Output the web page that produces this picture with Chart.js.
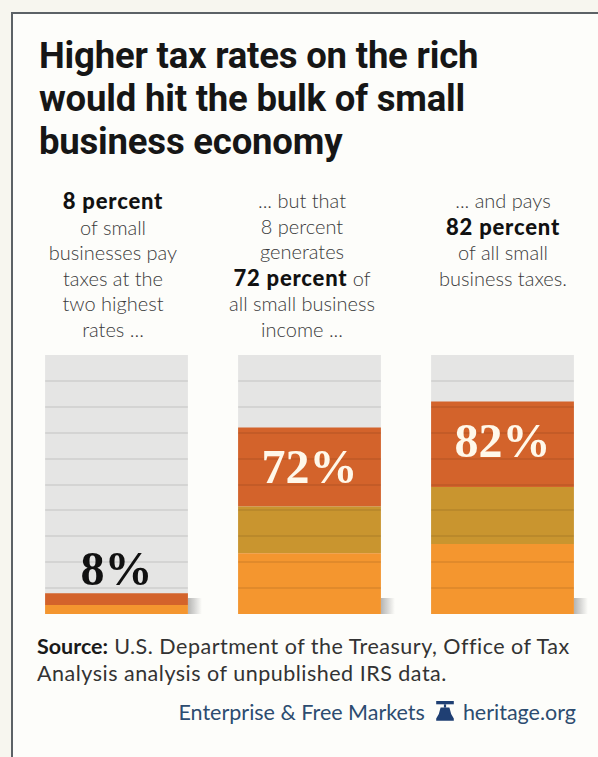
<!DOCTYPE html>
<html>
<head>
<meta charset="utf-8">
<script src="https://cdn.jsdelivr.net/npm/chart.js@4.4.1/dist/chart.umd.min.js"></script>
<style>
  html, body { margin: 0; padding: 0; }
  body { width: 598px; height: 757px; background: #f7f6ef; position: relative; overflow: hidden; }
  .frame {
    position: absolute; left: 11px; top: 12px; width: 600px; height: 760px;
    border-left: 2px solid #5c6266; border-top: 2px solid #5c6266;
    background: #fdfdfa;
  }
  .title {
    position: absolute; left: 39px; top: 34px; margin: 0;
    font-family: Roboto, "Liberation Sans", sans-serif; font-weight: 700;
    font-size: 36.5px; line-height: 43px; color: #161616; letter-spacing: -0.2px;
  }
  .caption {
    position: absolute; top: 188px; width: 196px; text-align: center;
    font-family: Lato, "Open Sans", sans-serif; font-weight: 300;
    font-size: 20px; line-height: 25.5px; color: #3a3a3a;
  }
  .caption b { font-weight: 900; font-size: 22px; letter-spacing: 0.8px; color: #111; }
  #chart-box { position: absolute; left: 20px; top: 345px; width: 579px; height: 280px; }
  .source {
    position: absolute; left: 37px; top: 633px; width: 560px; white-space: nowrap;
    font-family: Lato, "Open Sans", sans-serif; font-size: 21.5px; line-height: 27px;
    letter-spacing: 0.5px; color: #333;
  }
  .source b { color: #1a1a1a; letter-spacing: 0; }
  .brand {
    position: absolute; right: 22px; top: 699px;
    font-family: Lato, "Open Sans", sans-serif; font-size: 21.5px; color: #2c4c70; white-space: nowrap;
  }
  .brand svg { vertical-align: -3px; margin: 0 8px 0 10px; }
</style>
</head>
<body>
<div class="frame"></div>
<h1 class="title">Higher tax rates on the rich<br>would hit the bulk of small<br>business economy</h1>

<div class="caption" style="left:15px"><b>8 percent</b><br>of small<br>businesses pay<br>taxes at the<br>two highest<br>rates ...</div>
<div class="caption" style="left:204px">... but that<br>8 percent<br>generates<br><b>72 percent</b> of<br>all small business<br>income ...</div>
<div class="caption" style="left:405px">... and pays<br><b>82 percent</b><br>of all small<br>business taxes.</div>

<div id="chart-box"><canvas id="tax-chart"></canvas></div>

<div class="source"><b>Source:</b> U.S. Department of the Treasury, Office of Tax<br>Analysis analysis of unpublished IRS data.</div>
<div class="brand">Enterprise &amp; Free Markets<svg width="20" height="22" viewBox="0 0 18 20"><rect x="1" y="0" width="16" height="3" fill="#1f3f73"/><rect x="8" y="3" width="2" height="3" fill="#1f3f73"/><path d="M5 6 H13 Q14 12 17 16 V18 H1 V16 Q4 12 5 6 Z" fill="#1f3f73"/></svg>heritage.org</div>

<script>
// values (percent)
const groups = ['Small businesses', 'Small business income', 'Small business taxes'];
const totals = [8, 72, 82];
const lowerPart = [3.5, 23.5, 27];
const middlePart = [0, 18, 22];
const upperPart = [4.5, 30.5, 33];
const fullScale = [100, 100, 100];
const stripeStep = 10;

const COLORS = {
  backdrop: '#e5e5e4',
  lower: '#f4962f',
  middle: '#c9952f',
  upper: '#d3632b',
  stripe: 'rgba(0, 0, 0, 0.075)'
};

// horizontal stripes across each bar, one per tick step
const stripesPlugin = {
  id: 'stripes',
  afterDatasetsDraw(chart) {
    const { ctx, scales: { y } } = chart;
    const bars = chart.getDatasetMeta(0).data;
    ctx.save();
    ctx.fillStyle = COLORS.stripe;
    bars.forEach(bar => {
      const left = bar.x - bar.width / 2;
      for (let v = stripeStep; v < 100; v += stripeStep) {
        const py = Math.round(y.getPixelForValue(v));
        ctx.fillRect(left, py - 1, bar.width, 2);
      }
    });
    ctx.restore();
  }
};

// soft shadow at the foot of each bar
const shadowPlugin = {
  id: 'footShadow',
  beforeDatasetsDraw(chart) {
    const { ctx, scales: { y } } = chart;
    const base = y.getPixelForValue(0);
    ctx.save();
    chart.getDatasetMeta(0).data.forEach(bar => {
      const right = bar.x + bar.width / 2;
      const g = ctx.createLinearGradient(right, 0, right + 14, 0);
      g.addColorStop(0, 'rgba(120,120,120,0.55)');
      g.addColorStop(1, 'rgba(120,120,120,0)');
      ctx.fillStyle = g;
      ctx.fillRect(right, base - 16, 14, 16);
    });
    ctx.restore();
  }
};

// big percentage figures
const figuresPlugin = {
  id: 'figures',
  afterDatasetsDraw(chart) {
    const { ctx, scales: { y } } = chart;
    const bars = chart.getDatasetMeta(0).data;
    ctx.save();
    ctx.font = 'bold 48px "Liberation Serif", "DejaVu Serif", serif';
    ctx.textAlign = 'center';
    ctx.textBaseline = 'alphabetic';
    totals.forEach((v, i) => {
      const top = y.getPixelForValue(v);
      const inside = v > 50;
      ctx.fillStyle = inside ? '#fff8ea' : '#111';
      const py = inside ? top + 55 : top - 8;
      ctx.fillText(v + '%', bars[i].x, py);
    });
    ctx.restore();
  }
};

function buildChart() {
  const canvas = document.getElementById('tax-chart');
  const common = { barPercentage: 0.74, categoryPercentage: 1, borderWidth: 0, grouped: false };

  new Chart(canvas, {
    type: 'bar',
    data: {
      labels: groups,
      datasets: [
        { label: 'Scale', data: fullScale, backgroundColor: COLORS.backdrop, stack: 'bg', order: 2, ...common },
        { label: 'Lower', data: lowerPart, backgroundColor: COLORS.lower, stack: 'main', order: 1, ...common },
        { label: 'Middle', data: middlePart, backgroundColor: COLORS.middle, stack: 'main', order: 1, ...common },
        { label: 'Upper', data: upperPart, backgroundColor: COLORS.upper, stack: 'main', order: 1, ...common }
      ]
    },
    options: {
      responsive: true,
      maintainAspectRatio: false,
      animation: false,
      layout: { padding: { top: 10, bottom: 11, left: 0, right: 0 } },
      plugins: { legend: { display: false }, tooltip: { enabled: false } },
      scales: {
        x: { display: false, stacked: true },
        y: { display: false, stacked: true, min: 0, max: 100, ticks: { stepSize: stripeStep } }
      }
    },
    plugins: [shadowPlugin, stripesPlugin, figuresPlugin]
  });
}

buildChart();
</script>
</body>
</html>
